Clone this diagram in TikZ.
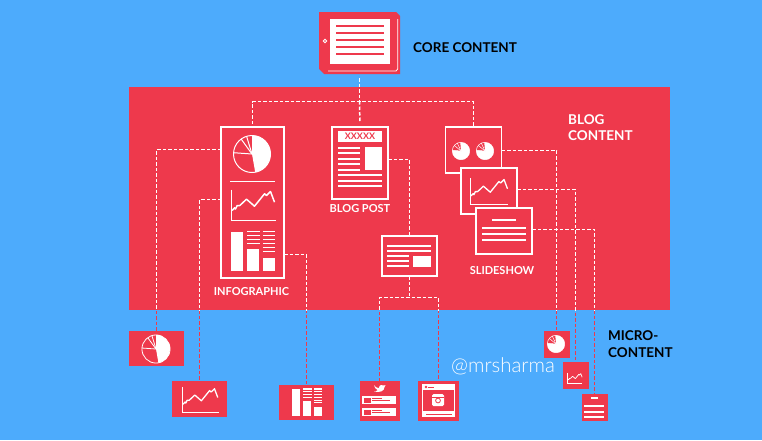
\documentclass[tikz,border=0pt]{standalone}
\usepackage{fontspec}
\setmainfont{Lato}
\newfontfamily\markfont{Lato Light}
\definecolor{skyback}{RGB}{77,171,252}
\definecolor{blogred}{RGB}{238,57,76}

\tikzset{
    panel/.style={draw=white, line width=1.7, fill=blogred, inner sep=0, outer sep=0},
    tile/.style={fill=blogred, inner sep=0, outer sep=0},
    link/.style={dash pattern=on 3.5pt off 2pt, line width=1.5},
    whitelabel/.style={text=white, font=\bfseries\fontsize{11}{14}\selectfont, inner sep=0},
    blacklabel/.style={text=black, font=\bfseries\fontsize{13.5}{16.5}\selectfont, inner sep=0, anchor=west, align=left},
    rule/.style={draw=white, line width=1.3},
    piepic/.pic={
        \begin{scope}[yscale=-1]
            \fill[white] (0,0) -- (90:18.5) arc (90:-80:18.5) -- cycle;
            \draw[white] (0,0) circle (18.5);
            \foreach \a in {107, 126, 176}
            {
                \draw[white] (0,0) -- (\a:18.5);
            }
        \end{scope}
    },
    smallpie/.pic={
        \begin{scope}[yscale=-1]
            \fill[white] (0,0) circle (8.7);
            \fill[blogred] (0,0) -- (95:8.7) arc (95:175:8.7) -- cycle;
            \draw[white, line width=0.5] (0,0) circle (8.7);
            \foreach \a in {115, 140, 175}
            {
                \draw[white, line width=0.5] (0,0) -- (\a:8.7);
            }
        \end{scope}
    },
    chartpic/.pic={
        \draw[white] (0,-31) -- (0,0) -- (44,0);
        \draw[white, line join=round] (0.7,-10) -- (3,-12.7) -- (4,-11.5) -- (5.7,-15) -- (8.3,-15) -- (15,-21.3)
            -- (23,-14.3) -- (33,-26.7) -- (35,-25) -- (39,-29) -- (43,-18.3);
    },
    barspic/.pic={
        \fill[white] (0,0) rectangle (12,39);
        \fill[white] (16,17) rectangle (28,39);
        \fill[white] (32,26) rectangle (44,39);
        \foreach \y in {0, 4, 8, 12}
        {
            \draw[white] (16,\y) -- (29,\y);
        }
        \foreach \y in {0, 4, ..., 20}
        {
            \draw[white] (32,\y) -- (44,\y);
        }
    }
}

% links that leave the blog area
\newcommand{\microlinks}[1]{
    \draw[link, #1] (infographic.west |- 0,149.5) -| (mpie.north);
    \draw[link, #1] (infographic.west |- 0,199.5) -| (mchart.north);
    \draw[link, #1] (infographic.east |- 0,254.5) -| (mbars.north);
    \draw[link, #1] (blogpost.east |- 0,159.5) -| (teaser.north);
    \draw[link, #1] (teaser.south) -- (teasertee);
    \draw[link, #1] (mtweet.north) |- (teasertee) -| (mphoto.north);
    \draw[link, #1] (slideone.east |- 0,150.5) -| (spie.north);
    \draw[link, #1] (slidetwo.east |- 0,189.5) -| (schart.north);
    \draw[link, #1] (slidethree.east |- 0,229.5) -| (sdoc.north);
}

\begin{document}
\begin{tikzpicture}[x=1pt, y=-1pt]
    \useasboundingbox (0,0) rectangle (762,440);
    \fill[skyback] (0,0) rectangle (762,440);

    % blog area
    \node[tile, anchor=north west, minimum width=541, minimum height=223] (blogarea) at (129,87) {};

    % core content
    \node[inner sep=0, outer sep=0, minimum width=81, minimum height=62] (core) at (359.5,43) {};
    \fill[blogred] (core.north west) -- ([xshift=-4pt]core.north east) -- ([yshift=-4pt]core.north east)
        -- (core.south east) -- ([xshift=5pt]core.south west) -- ([yshift=5pt]core.south west) -- cycle;
    \fill[white] (330,19) rectangle (390,64);
    \foreach \y in {26, 33, 40, 47, 54}
    {
        \draw[blogred, line width=1.5] (336,\y) -- (384,\y);
    }
    \draw[white, line width=0.8] (325,41) circle (1.7);
    \draw[white, line width=0.8] (397.7,19) -- (397.7,69) -- (396,71) -- (328,71);
    \node[blacklabel] (corelabel) at (413,48) {CORE CONTENT};
    \node[whitelabel, font=\bfseries\fontsize{13.5}{16.5}\selectfont, anchor=west, align=left] (bloglabel) at (568,127.5) {BLOG\\CONTENT};
    \node[blacklabel] (microlabel) at (608,344) {MICRO-\\CONTENT};

    % infographic
    \node[panel, anchor=north west, minimum width=63, minimum height=151] (infographic) at (221,127) {};
    \pic[line width=1] at (252,154) {piepic};
    \draw[white, line width=1.5] (230,181.5) -- (275,181.5);
    \pic[line width=1.5] at (231.5,220.5) {chartpic};
    \pic[line width=1.5] at (231,231.5) {barspic};
    \node[whitelabel] (infolabel) at (251.5,292) {INFOGRAPHIC};

    % blog post
    \node[panel, anchor=north west, minimum width=56, minimum height=72] (blogpost) at (332,127) {};
    \fill[white] (338,131) rectangle (382,142);
    \node[text=blogred, font=\bfseries\fontsize{9}{9}\selectfont, inner sep=0] (xxlabel) at (360,136.7) {XXXXX};
    \foreach \y in {148, 153, 159, 164, 170}
    {
        \draw[rule] (338,\y) -- (360,\y);
    }
    \foreach \y in {175, 181, 186}
    {
        \draw[rule] (338,\y) -- (382,\y);
    }
    \fill[white] (365,147) rectangle (382,170);
    \node[whitelabel] (postlabel) at (360,209) {BLOG POST};

    % teaser under the post
    \node[panel, anchor=north west, minimum width=55, minimum height=40] (teaser) at (382,236) {};
    \foreach \y in {246, 251}
    {
        \draw[rule] (387,\y) -- (431,\y);
    }
    \foreach \y in {256, 261, 266}
    {
        \draw[rule] (387,\y) -- (409,\y);
    }
    \fill[white] (413,256) rectangle (431,267);
    \coordinate (teasertee) at (409.5,297.5);

    % slideshow
    \node[panel, anchor=north west, minimum width=56, minimum height=46] (slideone) at (445.5,127) {};
    \pic at (461,151) {smallpie};
    \pic at (485,151) {smallpie};
    \node[panel, anchor=north west, minimum width=56, minimum height=46] (slidetwo) at (461,168) {};
    \pic[line width=1.3, scale=0.86] at (470.5,204.5) {chartpic};
    \node[panel, anchor=north west, minimum width=56, minimum height=46] (slidethree) at (476,208) {};
    \draw[rule] (492,220) -- (516,220);
    \foreach \y in {228, 234, 240}
    {
        \draw[rule] (482,\y) -- (526,\y);
    }
    \node[whitelabel] (slidelabel) at (502,271) {SLIDESHOW};

    % micro content tiles
    \node[tile, anchor=north west, minimum width=55, minimum height=35] (mpie) at (129,331) {};
    \pic[line width=0.8, scale=0.76] at (156,349) {piepic};
    \node[tile, anchor=north west, minimum width=55, minimum height=36] (mchart) at (172,381) {};
    \pic[line width=1.3, scale=0.82] at (182.5,412.5) {chartpic};
    \node[tile, anchor=north west, minimum width=55, minimum height=35] (mbars) at (279,385) {};
    \pic[line width=1.1, scale=0.69] at (292,389) {barspic};

    \node[tile, anchor=north west, minimum width=40, minimum height=40] (mtweet) at (359.5,381) {};
    \fill[white] (374,385) .. controls (376,388) and (378,388) .. (379,388)
        .. controls (379,385) and (382,384) .. (384,385.5) -- (385.5,385) -- (384.6,386.8)
        .. controls (384.5,391) and (380,393) .. (374,391.5)
        .. controls (376,391.5) and (377,391) .. (377.5,390)
        .. controls (375.5,389.5) and (374.5,387) .. (374,385) -- cycle;
    \foreach \y in {396, 408}
    {
        \fill[white] (362,\y) rectangle (396,\y+8);
        \fill[blogred] (364,\y+1.5) rectangle (371,\y+6.5);
        \draw[blogred, line width=0.6] (372,\y+2.5) -- (382,\y+2.5);
        \draw[blogred, line width=0.6] (372,\y+4.5) -- (390,\y+4.5);
    }

    \node[tile, anchor=north west, minimum width=41, minimum height=40] (mphoto) at (418,381) {};
    \fill[white] (422,384) rectangle (455,417);
    \fill[blogred] (423,390) rectangle (454,411);
    \fill[blogred] (426,387) circle (1.3);
    \draw[blogred, line width=0.6] (428,387) -- (434,387);
    \draw[blogred, line width=0.6] (426,414) -- (452,414);
    \fill[white, rounded corners=1.5] (432,394) rectangle (444,406);
    \draw[blogred, line width=0.8] (438,400.5) circle (2.4);
    \fill[blogred] (432,397) rectangle (444,397.7);

    \node[tile, anchor=north west, minimum width=26, minimum height=27] (spie) at (543.5,331) {};
    \pic at (556,344) {smallpie};
    \node[tile, anchor=north west, minimum width=26, minimum height=27] (schart) at (562.5,362) {};
    \pic[line width=0.7, scale=0.34] at (567.5,383.5) {chartpic};
    \node[tile, anchor=north west, minimum width=26, minimum height=27] (sdoc) at (581.5,394) {};
    \fill[white] (591,397) rectangle (598,399);
    \foreach \y in {406, 412, 417}
    {
        \draw[white, line width=1.3] (584,\y) -- (604,\y);
    }

    % links from the core
    \coordinate (coretee) at (359.5,101.5);
    \draw[link, draw=white, shorten <=4pt] (core.south) -- (coretee);
    \draw[link, draw=white, shorten <=6pt] (blogpost.north) -- (coretee);
    \draw[link, draw=white, shorten <=3pt] (infographic.north) |- (coretee) -| (slideone.north);

    % links to the micro content, red on the sky and white on the blog area
    \microlinks{draw=blogred}
    \begin{scope}
        \clip (blogarea.north west) rectangle (blogarea.south east);
        \microlinks{draw=white}
    \end{scope}

    \node[text=white, font=\markfont\fontsize{20.4}{24}\selectfont, inner sep=0, anchor=west] (handle) at (451,366) {@mrsharma};
\end{tikzpicture}
\end{document}
